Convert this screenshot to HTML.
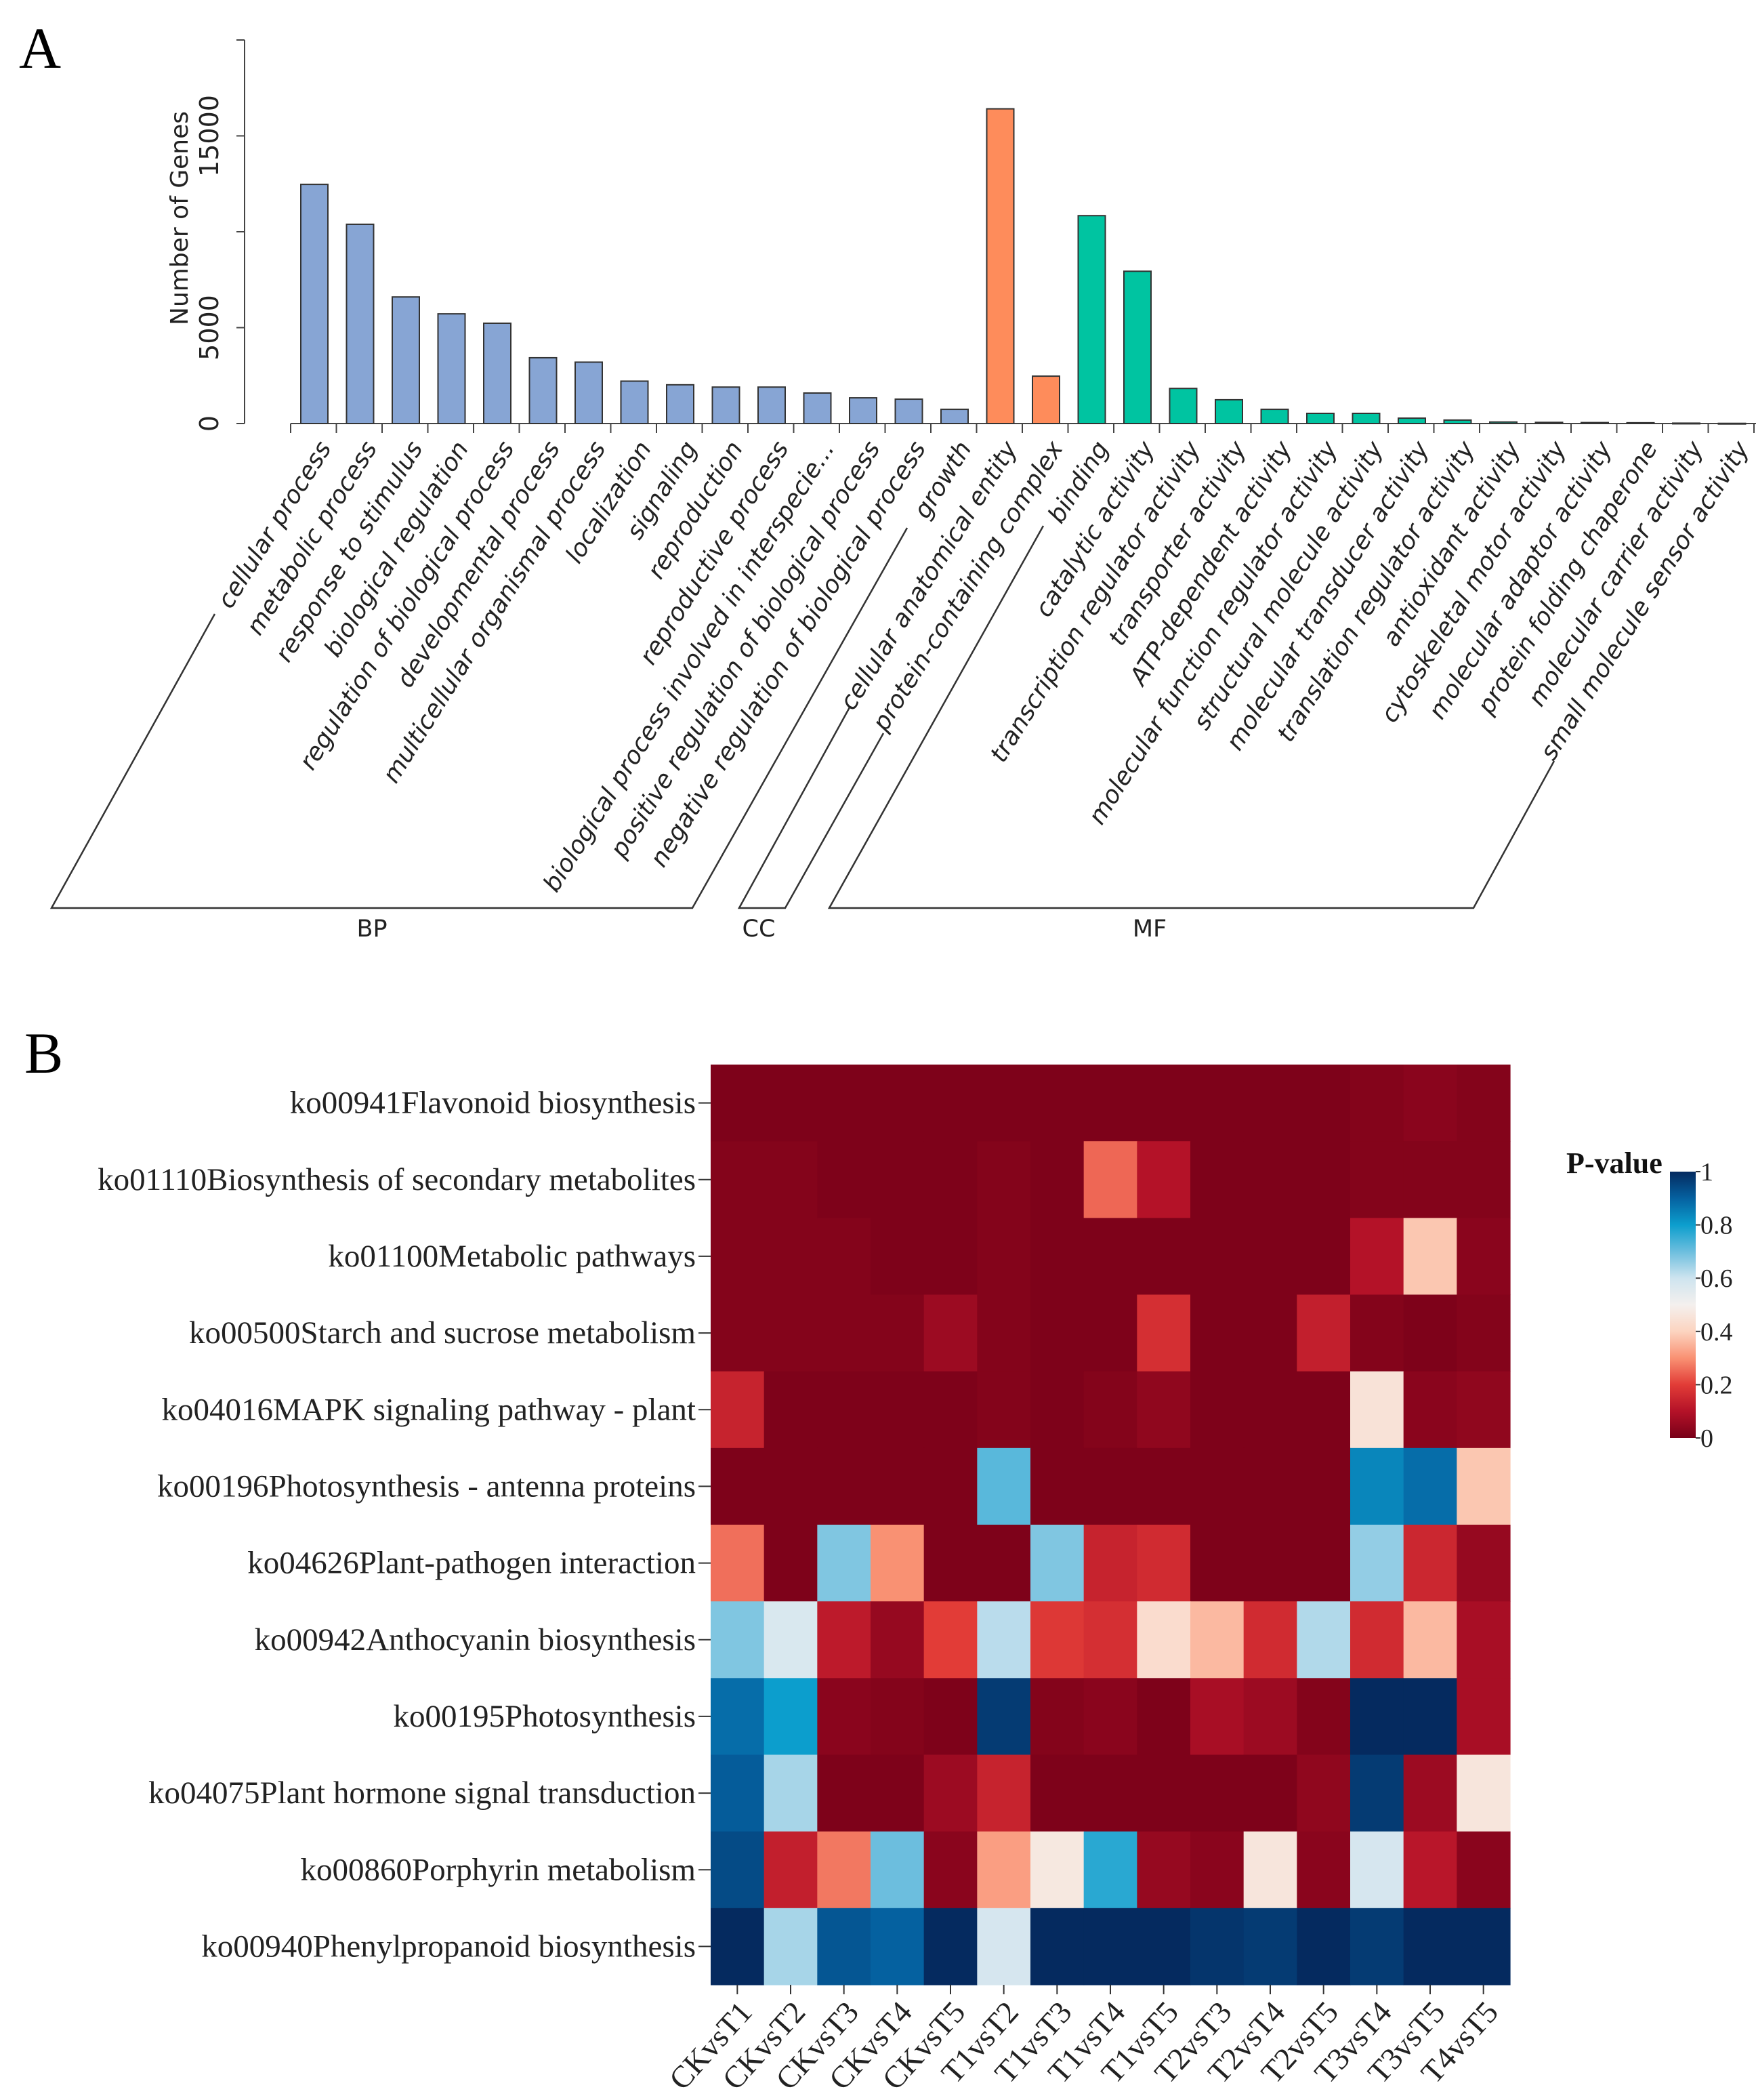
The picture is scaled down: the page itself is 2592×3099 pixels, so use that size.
<!DOCTYPE html>
<html><head><meta charset="utf-8"><style>
html,body{margin:0;padding:0;background:#fff;}
svg{display:block;}
</style></head><body>
<svg id="fig" width="2592" height="3099" viewBox="0 0 2592 3099" xmlns="http://www.w3.org/2000/svg">
<rect width="2592" height="3099" fill="#fff"/>
<text x="28" y="100" font-family="Liberation Serif, serif" font-size="86">A</text>
<text x="36" y="1583" font-family="Liberation Serif, serif" font-size="86">B</text>
<g id="barchart"></g>
<g id="heatmap"></g>
</svg>
<script>
// ---- Panel A data ----
const goTerms = ["cellular process","metabolic process","response to stimulus","biological regulation","regulation of biological process","developmental process","multicellular organismal process","localization","signaling","reproduction","reproductive process","biological process involved in interspecie...","positive regulation of biological process","negative regulation of biological process","growth","cellular anatomical entity","protein-containing complex","binding","catalytic activity","transcription regulator activity","transporter activity","ATP-dependent activity","molecular function regulator activity","structural molecule activity","molecular transducer activity","translation regulator activity","antioxidant activity","cytoskeletal motor activity","molecular adaptor activity","protein folding chaperone","molecular carrier activity","small molecule sensor activity"];
const goCounts = [12470,10390,6600,5720,5230,3430,3200,2210,2020,1900,1900,1590,1340,1270,740,16410,2470,10840,7940,1830,1240,740,530,530,280,180,80,60,50,40,20,10];
const goGroup = ["BP","BP","BP","BP","BP","BP","BP","BP","BP","BP","BP","BP","BP","BP","BP","CC","CC","MF","MF","MF","MF","MF","MF","MF","MF","MF","MF","MF","MF","MF","MF","MF"];
const yTicks = [0,5000,10000,15000,20000];
const yTickLabels = ["0","5000","","15000",""];

// ---- Panel B data ----
const pathways = ["ko00941Flavonoid biosynthesis","ko01110Biosynthesis of secondary metabolites","ko01100Metabolic pathways","ko00500Starch and sucrose metabolism","ko04016MAPK signaling pathway - plant","ko00196Photosynthesis - antenna proteins","ko04626Plant-pathogen interaction","ko00942Anthocyanin biosynthesis","ko00195Photosynthesis","ko04075Plant hormone signal transduction","ko00860Porphyrin metabolism","ko00940Phenylpropanoid biosynthesis"];
const comparisons = ["CKvsT1","CKvsT2","CKvsT3","CKvsT4","CKvsT5","T1vsT2","T1vsT3","T1vsT4","T1vsT5","T2vsT3","T2vsT4","T2vsT5","T3vsT4","T3vsT5","T4vsT5"];
const pRow1 = [0.01,0.01,0.01,0.01,0.01,0.01,0.01,0.01,0.01,0.01,0.01,0.01,0.02,0.03,0.02];
const pRow2 = [0.02,0.02,0.01,0.01,0.01,0.02,0.01,0.25,0.1,0.01,0.01,0.01,0.02,0.02,0.02];
const pRow3 = [0.02,0.02,0.02,0.01,0.01,0.02,0.01,0.01,0.01,0.01,0.01,0.01,0.1,0.38,0.03];
const pRow4 = [0.02,0.02,0.02,0.02,0.06,0.02,0.01,0.01,0.17,0.01,0.01,0.13,0.02,0.01,0.02];
const pRow5 = [0.14,0.01,0.01,0.01,0.01,0.02,0.01,0.02,0.04,0.01,0.01,0.01,0.45,0.03,0.04];
const pRow6 = [0.01,0.01,0.01,0.01,0.01,0.72,0.01,0.01,0.01,0.01,0.01,0.01,0.84,0.88,0.38];
const pRow7 = [0.26,0.01,0.68,0.3,0.01,0.01,0.68,0.14,0.16,0.01,0.01,0.01,0.66,0.15,0.05];
const pRow8 = [0.68,0.57,0.12,0.05,0.2,0.62,0.19,0.17,0.43,0.36,0.16,0.63,0.16,0.36,0.08];
const pRow9 = [0.88,0.8,0.03,0.02,0.01,0.97,0.02,0.03,0.01,0.08,0.06,0.02,1.0,1.0,0.08];
const pRow10 = [0.91,0.64,0.01,0.01,0.06,0.14,0.01,0.01,0.01,0.01,0.01,0.04,0.97,0.06,0.46];
const pRow11 = [0.94,0.13,0.27,0.7,0.03,0.32,0.47,0.77,0.05,0.03,0.46,0.03,0.58,0.11,0.03];
const pRow12 = [1.0,0.64,0.92,0.9,1.0,0.58,1.0,1.0,1.0,0.98,0.97,1.0,0.97,1.0,1.0];
const pValues = [pRow1,pRow2,pRow3,pRow4,pRow5,pRow6,pRow7,pRow8,pRow9,pRow10,pRow11,pRow12];
const cbTicks = [0,0.2,0.4,0.6,0.8,1];
const cbTickLabels = ["0","0.2","0.4","0.6","0.8","1"];

const NS = "http://www.w3.org/2000/svg";
function mk(tag, attrs, parent){const e=document.createElementNS(NS,tag);for(const k in attrs)e.setAttribute(k,attrs[k]);parent.appendChild(e);return e;}

// ---------- Panel A ----------
const A = document.getElementById("barchart");
const y0px = 625, yTop = 59, yMax = 20000;
const yScale = v => y0px - (v / yMax) * (y0px - yTop);
const xStart = 429, step = 67.5;
const xCenter = i => xStart + step * i + 35;
const colors = {BP:"#87a5d4", CC:"#fe8c5b", MF:"#00c4a1"};

let e;
e = mk("line",{x1:361,y1:yScale(0),x2:361,y2:yScale(yMax),stroke:"#444","stroke-width":2},A);


yTicks.forEach((t,i)=>{
  const y=yScale(t);
  const tk=mk("line",{x1:349,y1:y,x2:361,y2:y,stroke:"#444","stroke-width":2},A);
  
  
  if(yTickLabels[i]){
    const tl=mk("text",{x:0,y:0,transform:`translate(322,${y}) rotate(-90)`,"text-anchor":"middle","font-family":"DejaVu Sans, sans-serif","font-size":38,fill:"#222"},A);
    tl.textContent=yTickLabels[i];
    
    
  }
});
e = mk("text",{x:0,y:0,transform:"translate(277,322) rotate(-90)","text-anchor":"middle","font-family":"DejaVu Sans, sans-serif","font-size":36,fill:"#222"},A);
e.textContent="Number of Genes";



e = mk("line",{x1:xStart,y1:y0px,x2:2592,y2:y0px,stroke:"#444","stroke-width":2},A);


for(let k=0;k<=goTerms.length;k++){
  const tk=mk("line",{x1:xStart+step*k,y1:y0px,x2:xStart+step*k,y2:y0px+14,stroke:"#444","stroke-width":2},A);
  
  
}
goTerms.forEach((name,i)=>{
  const cx=xCenter(i), v=goCounts[i];
  const r=mk("rect",{x:cx-20,y:yScale(v),width:40,height:Math.max(y0px-yScale(v),1),fill:colors[goGroup[i]],stroke:"#333","stroke-width":2},A);
  
  
  const t=mk("text",{x:0,y:0,transform:`translate(${cx+26},${y0px+36}) rotate(-58)`,"text-anchor":"end","font-family":"DejaVu Sans, sans-serif","font-style":"oblique","font-size":36,fill:"#222"},A);
  t.textContent=name;
  
  
});
// group brackets
function bracket(pts,label,lx,nm){
  const p=mk("polyline",{points:pts,fill:"none",stroke:"#333","stroke-width":2.5},A);
  
  
  const t=mk("text",{x:lx,y:1382,"text-anchor":"middle","font-family":"DejaVu Sans, sans-serif","font-size":35,fill:"#222"},A);
  t.textContent=label;
  
  
}
bracket("317,906 76,1340 1022,1340 1339,779","BP",549,"bp");
bracket("1254,1044 1091,1340 1159,1340 1304,1082","CC",1120,"cc");
bracket("1540,776 1224,1340 2175,1340 2294,1123","MF",1697,"mf");

// ---------- Panel B ----------
const H = document.getElementById("heatmap");
const hx0=1049, hx1=2229, hy0=1571, hy1=2929;
const cw=(hx1-hx0)/comparisons.length, ch=(hy1-hy0)/pathways.length;
const colX = j => hx0 + j*cw;
const rowY = i => hy0 + i*ch;
const stops=[[0,[120,0,24]],[0.1,[180,18,40]],[0.2,[226,60,55]],[0.3,[249,145,115]],[0.4,[252,212,192]],[0.5,[244,240,238]],[0.6,[206,228,239]],[0.7,[108,190,222]],[0.8,[12,158,205]],[0.9,[5,97,160]],[1,[5,42,95]]];
function pColor(v){
  v=Math.max(0,Math.min(1,v));
  for(let k=0;k<stops.length-1;k++){
    const a=stops[k],b=stops[k+1];
    if(v<=b[0]){const f=(v-a[0])/(b[0]-a[0]);const c=a[1].map((x,q)=>Math.round(x+(b[1][q]-x)*f));return `rgb(${c[0]},${c[1]},${c[2]})`;}
  }
  return "rgb(5,42,95)";
}
pValues.forEach((row,i)=>{
  row.forEach((v,j)=>{
    const r=mk("rect",{x:colX(j),y:rowY(i),width:cw+0.6,height:ch+0.6,fill:pColor(v)},H);
    
    
  });
});
pathways.forEach((name,i)=>{
  const cy=rowY(i)+ch/2;
  const tk=mk("line",{x1:1031,y1:cy,x2:hx0,y2:cy,stroke:"#333","stroke-width":2},H);
  
  
  const t=mk("text",{x:1027,y:cy+15,"text-anchor":"end","font-family":"Liberation Serif, serif","font-size":47,fill:"#222"},H);
  t.textContent=name;
  
  
});
comparisons.forEach((name,j)=>{
  const cx=colX(j)+cw/2;
  const tk=mk("line",{x1:cx,y1:hy1,x2:cx,y2:hy1+14,stroke:"#333","stroke-width":2},H);
  
  
  const t=mk("text",{x:0,y:0,transform:`translate(${cx+24},${hy1+42}) rotate(-48)`,"text-anchor":"end","font-family":"Liberation Serif, serif","font-size":46,fill:"#222"},H);
  t.textContent=name;
  
  
});
// colorbar
const cbx=2465, cbw=38, cbTop=1729, cbBot=2122;
const defs=mk("defs",{},H);
const grad=mk("linearGradient",{id:"cbgrad",x1:0,y1:1,x2:0,y2:0},defs);
stops.forEach(s=>{mk("stop",{offset:s[0],"stop-color":`rgb(${s[1].join(',')})`},grad);});
e=mk("rect",{x:cbx,y:cbTop,width:cbw,height:cbBot-cbTop,fill:"url(#cbgrad)"},H);


const cbY = v => cbBot - v*(cbBot-cbTop);
cbTicks.forEach((v,k)=>{
  const y=cbY(v);
  const tk=mk("line",{x1:cbx+cbw,y1:y,x2:cbx+cbw+7,y2:y,stroke:"#333","stroke-width":2},H);
  
  
  const t=mk("text",{x:cbx+cbw+7,y:y+13,"font-family":"Liberation Serif, serif","font-size":38,fill:"#222"},H);
  t.textContent=cbTickLabels[k];
  
  
});
e=mk("text",{x:2312,y:1731,"font-family":"Liberation Serif, serif","font-weight":"bold","font-size":44,fill:"#111"},H);
e.textContent="P-value";


</script>
</body></html>
